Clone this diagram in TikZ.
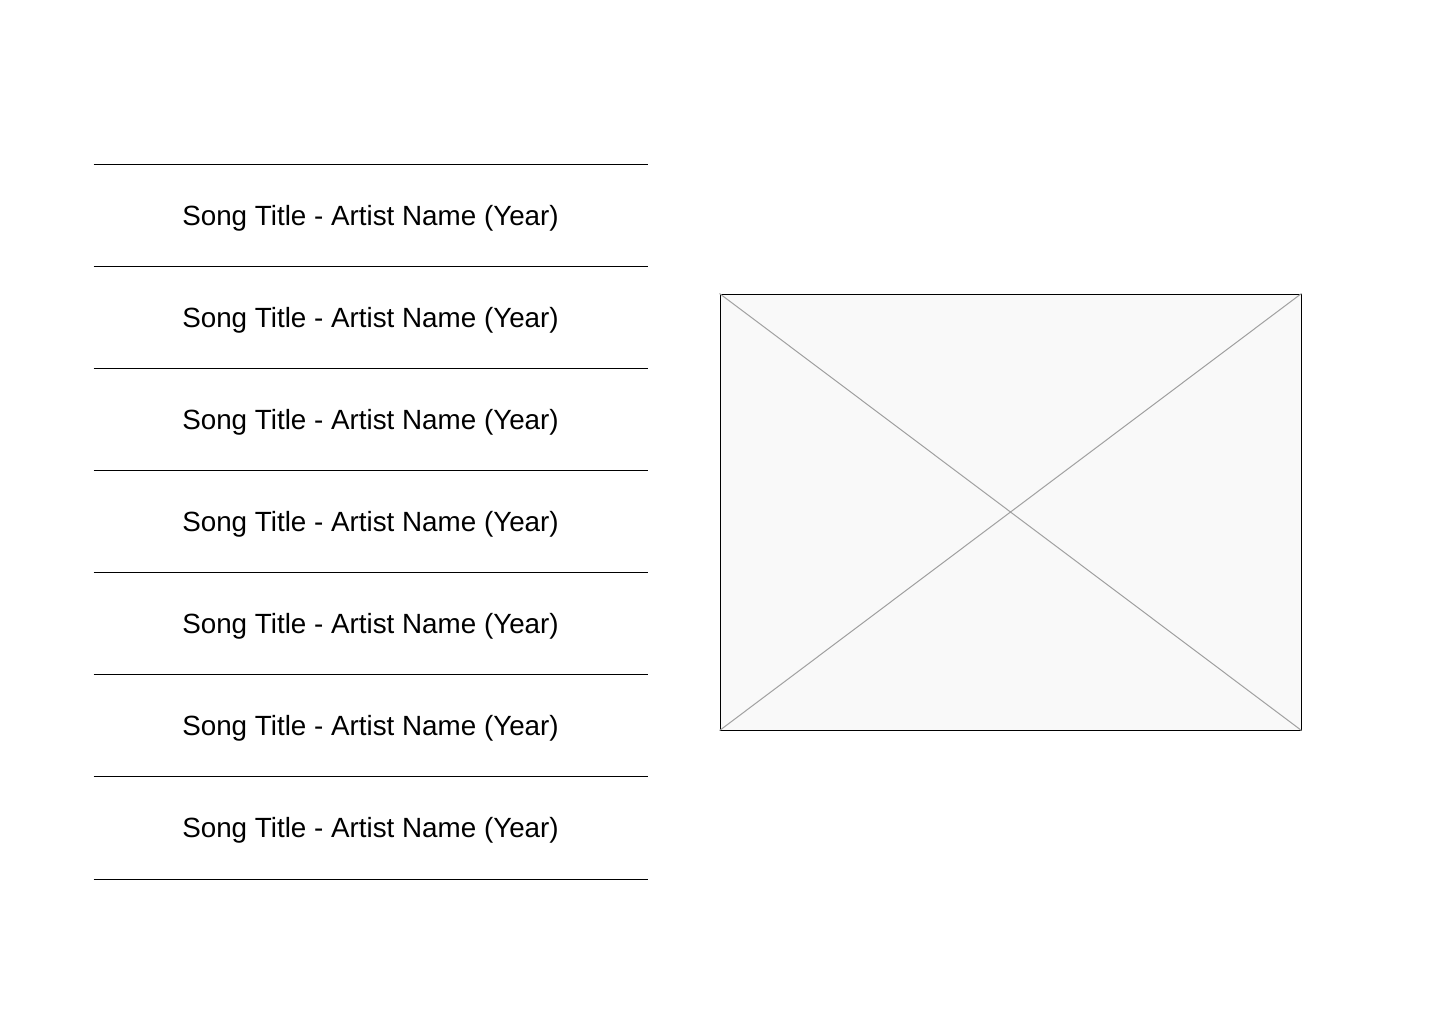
\documentclass[tikz,border=0pt]{standalone}
\usepackage{fontspec}
\setmainfont{Liberation Sans}
\usetikzlibrary{positioning}
\definecolor{coverfill}{HTML}{F9F9F9}
\definecolor{crossline}{HTML}{A0A0A0}
\newcommand{\songtext}{\raisebox{-4.75pt}[0pt][0pt]{Song Title - Artist Name (Year)}}

\begin{document}
\begin{tikzpicture}[x=0.5pt, y=-0.5pt, node distance=51pt, on grid, line width=0.5pt,
	song/.style={minimum width=276.5pt, minimum height=51pt, inner sep=0pt, font=\fontsize{13.9}{16}\selectfont},
	cover/.style={draw, fill=coverfill, minimum width=290.5pt, minimum height=218pt, inner sep=0pt}]
	\useasboundingbox (0,0) rectangle (1440,1024);
	
	\node[song](s1) at (370.5,215.5){\songtext};
	\foreach \i [count=\j from 2] in {1,...,6}
		\node[song, below = of s\i](s\j){\songtext};
	\foreach \i in {1,...,7}
		\draw (s\i.north west) -- (s\i.north east);
	\draw (s7.south west) -- (s7.south east);
	
	\node[cover](art) at (1010.5,512){};
	\draw[crossline] (art.north west) -- (art.south east)
	(art.north east) -- (art.south west);
\end{tikzpicture}
\end{document}
